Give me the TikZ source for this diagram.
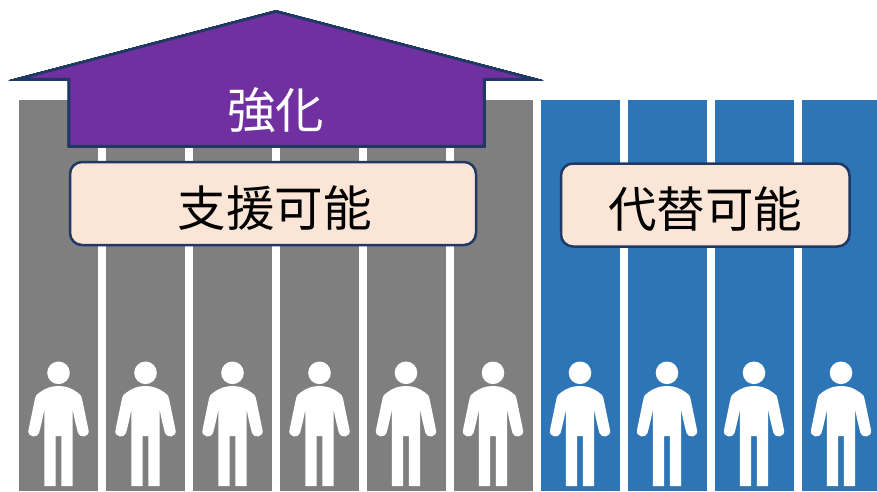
\documentclass[tikz,border=0pt]{standalone}
\usepackage{fontspec}
\setmainfont{Noto Sans CJK JP}
\tikzset{
  x=1pt,y=-1pt,
  graycol/.style={fill=colgray,draw=none},
  bluecol/.style={fill=colblue,draw=none},
  label box/.style={rounded corners=12pt,fill=boxfill,draw=navy,line width=2.5pt},
  big text/.style={font=\fontsize{48.5}{50}\selectfont,inner sep=0pt,anchor=center},
  person/.style={fill=white,draw=none},
}
\definecolor{colgray}{HTML}{7F7F7F}
\definecolor{colblue}{HTML}{2E75B6}
\definecolor{arrowpurple}{HTML}{7030A0}
\definecolor{navy}{HTML}{1F3864}
\definecolor{boxfill}{HTML}{FBE5D6}
\newcommand{\personat}[1]{%
  \begin{scope}[shift={(#1,0)}]
    \fill[person] (0,372.8) circle[radius=11.3];
    \fill[person] (-14.2,486) -- (-14.2,409)
      .. controls (-14.5,412) and (-17,424) .. (-19.5,433)
      .. controls (-20.8,438.5) and (-31.5,437.5) .. (-30,430)
      -- (-24,401)
      .. controls (-23,396) and (-22,393.5) .. (-19,392.5)
      .. controls (-13,388) and (-7,386) .. (0,386)
      .. controls (7,386) and (13,388) .. (19,392.5)
      .. controls (22,393.5) and (23,396) .. (24,401)
      -- (30,430)
      .. controls (31.5,437.5) and (20.8,438.5) .. (19.5,433)
      .. controls (17,424) and (14.5,412) .. (14.2,409)
      -- (14.2,486) -- (2.8,486) -- (2.8,436) -- (-2.8,436) -- (-2.8,486) -- cycle;
  \end{scope}}
\begin{document}
\begin{tikzpicture}
\useasboundingbox (0,0) rectangle (877,491);
\foreach \l/\r in {19/98,106/185,193/272,280/359,367/446,454/533}
  \path[graycol] (\l,100) rectangle (\r,491);
\foreach \l/\r in {541/620,628/707,715/794,802/877}
  \path[bluecol] (\l,100) rectangle (\r,491);
\foreach \c in {58.5,145.5,232.5,319.5,406,493,580,667,754,841}
  \personat{\c}
\draw[fill=arrowpurple,draw=navy,line width=2.5pt,miter limit=12]
  (276,11.5) -- (533.5,79) -- (484,79) -- (484,146) -- (69,146) -- (69,79) -- (18.5,79) -- cycle;
\node[big text,text=white] (qiang) at (275.5,110) {強化};
\draw[label box] (70,162) rectangle (476,245);
\node[big text,text=black] (zhien) at (274.5,208) {支援可能};
\draw[label box] (561,163.5) rectangle (849.5,246.5);
\node[big text,text=black] (daitai) at (705,209) {代替可能};
\end{tikzpicture}
\end{document}
